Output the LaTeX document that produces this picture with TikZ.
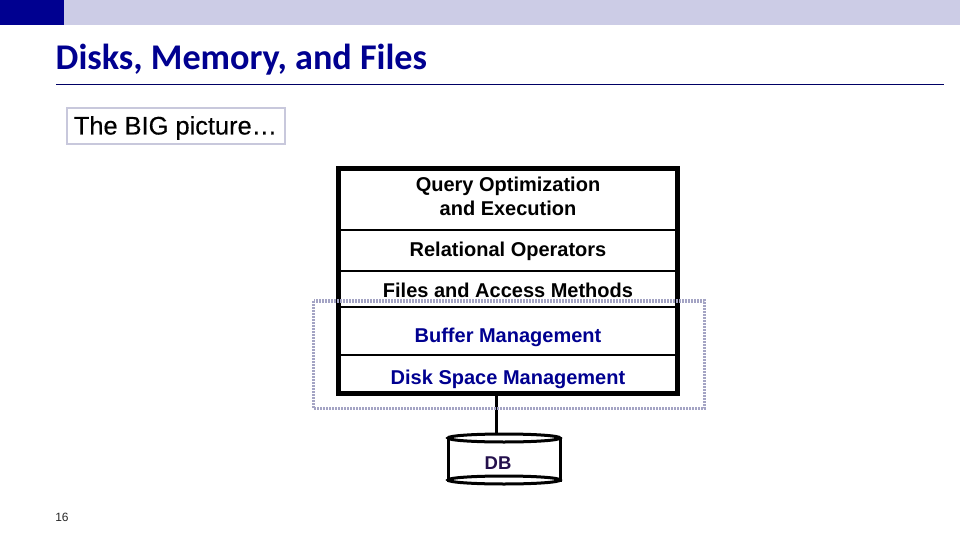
\documentclass[tikz,border=0pt]{standalone}
\usepackage{fontspec}
\usetikzlibrary{shapes.geometric}
\setmainfont{Liberation Sans}
\newfontfamily\titlefont{Carlito}
\newfontfamily\heavyfont[FakeBold=0.3]{Liberation Sans}
\definecolor{navyblue}{HTML}{000090}
\definecolor{paleblue}{HTML}{CCCCE6}
\definecolor{dotgray}{HTML}{A4A4C4}
\definecolor{boxgray}{HTML}{C8C8DC}
\definecolor{dbpurple}{HTML}{24104C}
\begin{document}
\begin{tikzpicture}[x=1pt,y=-1pt]
    % Stili
    \tikzstyle{banner}=[draw=none, inner sep=0pt, anchor=north west, minimum height=25pt]
    \tikzstyle{layer}=[inner sep=0pt, align=center, anchor=base, font=\fontsize{20}{24}\selectfont\bfseries, text=black]
    \tikzstyle{lowlayer}=[layer, text=navyblue]
    \tikzstyle{separator}=[line width=2pt]
    \tikzstyle{frame}=[draw, line width=5pt, minimum width=339pt, minimum height=225pt, inner sep=0pt]
    \tikzstyle{disk}=[draw, line width=3pt, ellipse, fill=white, minimum width=112pt, minimum height=8pt, inner sep=0pt]
    \useasboundingbox (0,0) rectangle (960,540);

    % Intestazione
    \node[banner, fill=navyblue, minimum width=64pt] (bar_dark) at (0,0) {};
    \node[banner, fill=paleblue, minimum width=896pt] (bar_light) at (64,0) {};
    \node[anchor=base west, inner sep=0pt, text=navyblue, font=\fontsize{36.2}{42}\selectfont\titlefont\bfseries] (title) at (55.5,70) {Disks, Memory, and Files};
    \coordinate (rule_l) at (56,84.5);
    \coordinate (rule_r) at (944,84.5);
    \draw[navyblue!70!black, line width=1pt] (rule_l) -- (rule_r);

    % Etichetta
    \node[draw=boxgray, line width=2pt, minimum width=218pt, minimum height=36pt, inner sep=0pt] (big) at (175.5,126) {};
    \node[anchor=base, inner sep=0pt, font=\fontsize{25.4}{30}\selectfont\heavyfont] (big_text) at (175.5,134.5) {The BIG picture\dots};

    % Pila dei livelli
    \node[frame] (stack) at (508,281) {};
    \node[layer] (query) at (508,215) {Query Optimization\\and Execution};
    \node[layer] (relop) at (508,256) {Relational Operators};
    \node[layer] (files) at (508,297) {Files and Access Methods};
    \node[lowlayer] (buffer) at (508,342) {Buffer Management};
    \node[lowlayer] (space) at (508,384) {Disk Space Management};

    % Separatori
    \foreach \i/\y in {a/229.5,b/270.5,c/306.5,d/355}{
        \coordinate (sep\i) at (508,\y);
        \draw[separator] (stack.west |- sep\i) -- (stack.east |- sep\i);
    }

    % Disco
    \coordinate (cyl_tl) at (448,438);
    \coordinate (cyl_br) at (560,480);
    \draw[line width=3pt, fill=white] (cyl_tl) rectangle (cyl_br);
    \node[disk] (db_top) at (504,438) {};
    \node[disk] (db_bot) at (504,480) {};
    \node[font=\fontsize{18.5}{22}\selectfont\bfseries, text=dbpurple, inner sep=0pt] (db) at (498,463.5) {DB};
    \coordinate (link_top) at (496.5,396);
    \draw[line width=3pt] (link_top) -- (link_top |- db_top.north);

    % Riquadro tratteggiato
    \coordinate (dots_tl) at (313.5,301);
    \coordinate (dots_br) at (704.5,408.5);
    \draw[dotgray, line width=3.5pt, dash pattern=on 2pt off 1pt] (dots_tl) rectangle (dots_br);

    % Numero pagina
    \node[font=\fontsize{12}{14}\selectfont, text=black!85, inner sep=0pt] (page) at (62,517) {16};
\end{tikzpicture}
\end{document}
